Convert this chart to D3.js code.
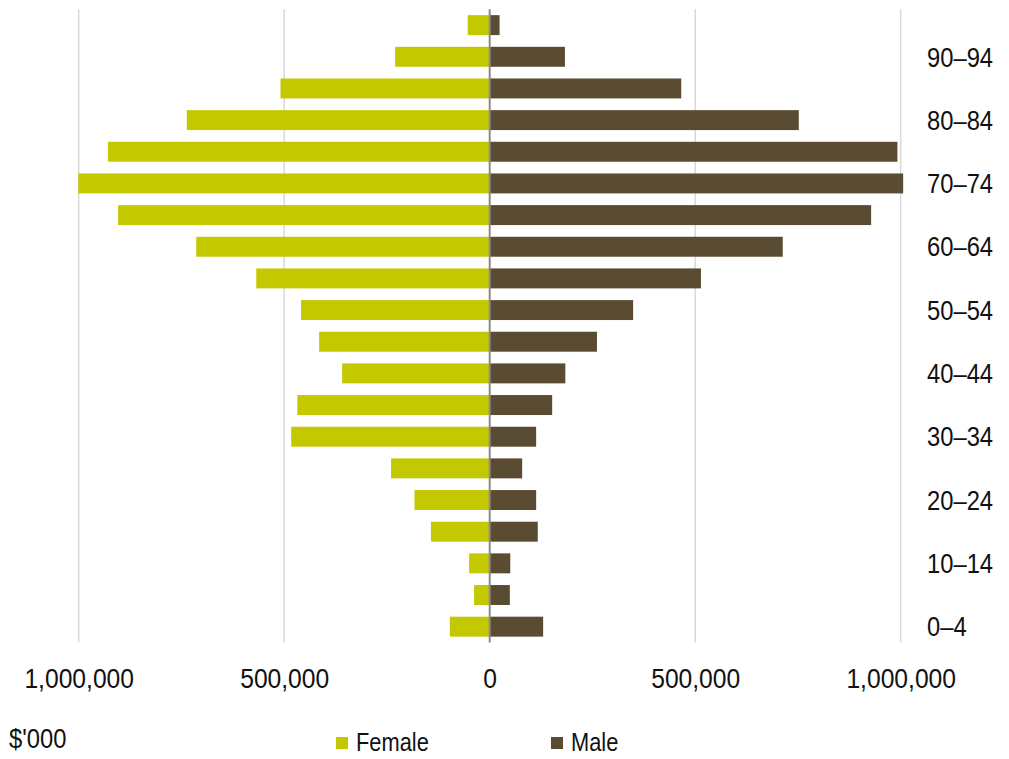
<!DOCTYPE html>
<html>
<head>
<meta charset="utf-8">
<script src="https://cdn.jsdelivr.net/npm/d3@7"></script>
<style>
  html, body { margin: 0; padding: 0; background: #fff; }
  svg { display: block; font-family: "Liberation Sans Narrow", "Arial Narrow", sans-serif; }
</style>
</head>
<body>
<svg id="chart" width="1009" height="759"></svg>
<script>
// Age groups, youngest first
const ageGroups = ["0–4","5–9","10–14","15–19","20–24","25–29","30–34","35–39","40–44","45–49",
                   "50–54","55–59","60–64","65–69","70–74","75–79","80–84","85–89","90–94","95+"];
// Values in $'000
const female = [97000, 38000, 50000, 143000, 183000, 240000, 483000, 468000, 359000, 415000,
                459000, 568000, 714000, 904000, 1001000, 929000, 737000, 509000, 230000, 53500];
const male   = [130000, 49000, 50000, 117000, 113000, 79000, 113000, 152000, 184000, 261000,
                349000, 514000, 713000, 928000, 1006000, 992000, 752000, 466000, 183000, 24000];
const xTicks = [-1000000, -500000, 0, 500000, 1000000];
const labelledGroups = ["0–4","10–14","20–24","30–34","40–44","50–54","60–64","70–74","80–84","90–94"];
const seriesNames = ["Female", "Male"];

const colors = { Female: "#c4c800", Male: "#5a4b33" };
// condensed look for all text
const squeeze = 0.88;

const svg = d3.select("#chart");

const x = d3.scaleLinear().domain([-1000000, 1000000]).range([78.7, 900.7]);
const y = d3.scaleBand()
  .domain(ageGroups.slice().reverse())
  .range([9.3, 642.5])
  .paddingInner(0.37)
  .paddingOuter(0.185);

// vertical gridlines
svg.append("g")
  .selectAll("line")
  .data(xTicks.filter(d => d !== 0))
  .join("line")
  .attr("x1", d => x(d)).attr("x2", d => x(d))
  .attr("y1", y.range()[0]).attr("y2", y.range()[1])
  .attr("stroke", "#d9d9d9")
  .attr("stroke-width", 1.5);

// female bars extend left of zero
svg.append("g")
  .selectAll("rect")
  .data(ageGroups.map((g, i) => ({ g, v: female[i] })))
  .join("rect")
  .attr("x", d => x(-d.v))
  .attr("y", d => y(d.g))
  .attr("width", d => x(0) - x(-d.v))
  .attr("height", y.bandwidth())
  .attr("fill", colors.Female);

// male bars extend right of zero
svg.append("g")
  .selectAll("rect")
  .data(ageGroups.map((g, i) => ({ g, v: male[i] })))
  .join("rect")
  .attr("x", x(0))
  .attr("y", d => y(d.g))
  .attr("width", d => x(d.v) - x(0))
  .attr("height", y.bandwidth())
  .attr("fill", colors.Male);

// zero axis line
svg.append("line")
  .attr("x1", x(0)).attr("x2", x(0))
  .attr("y1", y.range()[0]).attr("y2", y.range()[1])
  .attr("stroke", "#8a8a8a")
  .attr("stroke-width", 2);

// x axis labels (absolute values)
const fmt = d3.format(",");
const xAxis = d3.axisBottom(x)
  .tickValues(xTicks)
  .tickSize(0)
  .tickPadding(0)
  .tickFormat(d => fmt(Math.abs(d)));
const gx = svg.append("g").attr("transform", "translate(0,668)").call(xAxis);
gx.select(".domain").remove();
gx.selectAll("text")
  .attr("font-family", "Liberation Sans Narrow, Arial Narrow, sans-serif")
  .attr("font-size", 28)
  .attr("fill", "#111")
  .attr("dy", "0.72em")
  .attr("transform", `scale(${squeeze},1)`);

// category labels on the right
const yAxis = d3.axisRight(y)
  .tickValues(labelledGroups)
  .tickSize(0)
  .tickPadding(0);
const gy = svg.append("g").attr("transform", "translate(927,0)").call(yAxis);
gy.select(".domain").remove();
gy.selectAll("text")
  .attr("font-family", "Liberation Sans Narrow, Arial Narrow, sans-serif")
  .attr("font-size", 27)
  .attr("fill", "#111")
  .attr("dy", "0.36em")
  .attr("transform", `scale(${squeeze},1)`);

// unit label
svg.append("text")
  .attr("transform", `translate(9,748) scale(${squeeze},1)`)
  .attr("font-size", 27)
  .attr("fill", "#111")
  .text("$'000");

// legend
const legendX = { Female: 336, Male: 551 };
const legend = svg.append("g")
  .selectAll("g")
  .data(seriesNames)
  .join("g")
  .attr("transform", d => `translate(${legendX[d]},0)`);
legend.append("rect")
  .attr("x", 0).attr("y", 737)
  .attr("width", 12).attr("height", 12)
  .attr("fill", d => colors[d]);
legend.append("text")
  .attr("transform", "translate(20,751) scale(0.84,1)")
  .attr("font-size", 26)
  .attr("fill", "#111")
  .text(d => d);
</script>
</body>
</html>
